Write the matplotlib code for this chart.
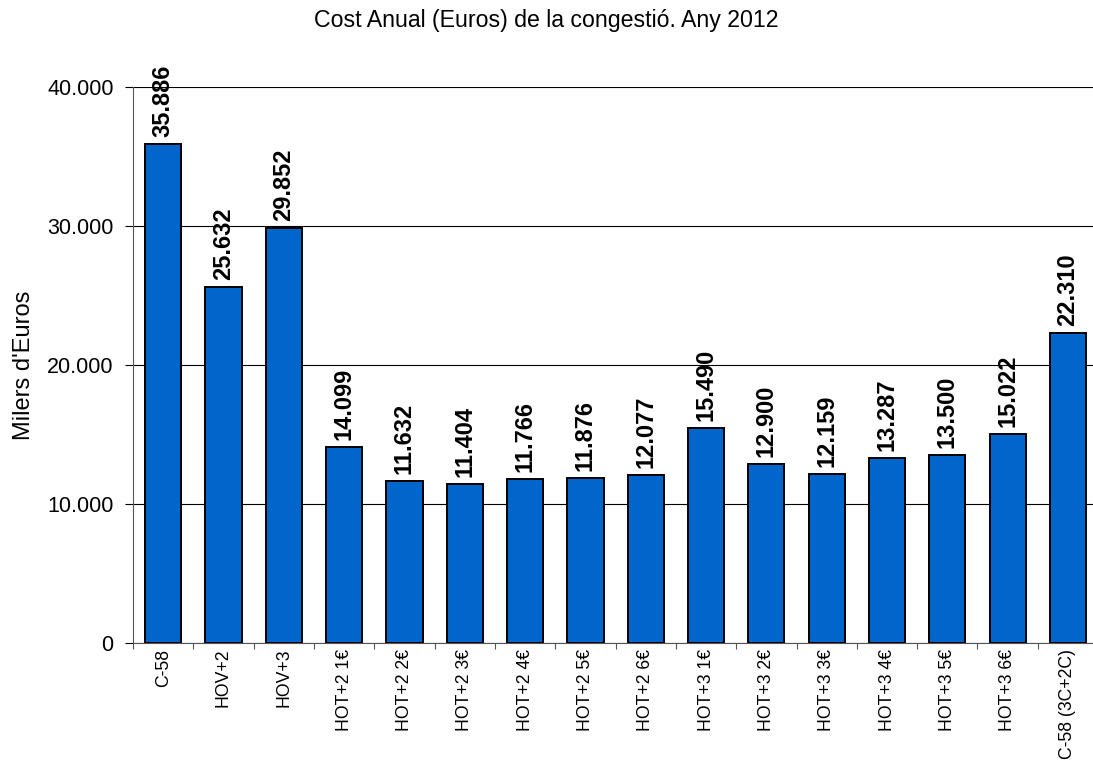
import numpy as np
import matplotlib.pyplot as plt
from matplotlib.ticker import FuncFormatter

plt.rcParams['font.family'] = ['Liberation Sans', 'DejaVu Sans']

# Escenaris i cost anual de la congestió (milers d'euros)
escenaris = ['C-58', 'HOV+2', 'HOV+3',
             'HOT+2 1€', 'HOT+2 2€', 'HOT+2 3€', 'HOT+2 4€', 'HOT+2 5€', 'HOT+2 6€',
             'HOT+3 1€', 'HOT+3 2€', 'HOT+3 3€', 'HOT+3 4€', 'HOT+3 5€', 'HOT+3 6€',
             'C-58 (3C+2C)']
cost = [35886, 25632, 29852,
        14099, 11632, 11404, 11766, 11876, 12077,
        15490, 12900, 12159, 13287, 13500, 15022,
        22310]

def punts_milers(v, pos=None):
    # format amb punt com a separador de milers
    return f"{int(v):,}".replace(',', '.')

fig = plt.figure(figsize=(10.93, 7.6), dpi=100)
ax = fig.add_axes([0.1217, 0.154, 0.883, 0.7316])

x = np.arange(len(escenaris))
ax.bar(x, cost, width=0.6, color='#0066CC', edgecolor='black', linewidth=1.4, zorder=3)

# etiquetes de valor verticals sobre cada barra
for xi, v in zip(x, cost):
    ax.annotate(punts_milers(v), (xi, v), xytext=(0, 5), textcoords='offset points',
                rotation=90, ha='center', va='bottom', fontsize=17, fontweight='bold')

ax.set_xlim(-0.5, len(escenaris) - 0.5)
ax.set_ylim(0, 40000)
ax.set_yticks([0, 10000, 20000, 30000, 40000])
ax.yaxis.set_major_formatter(FuncFormatter(punts_milers))
ax.grid(axis='y', color='black', linewidth=0.8, zorder=0)

# marques de l'eix x entre categories
ax.set_xticks(np.arange(-0.5, len(escenaris) + 0.5, 1.0))
ax.set_xticklabels([])
ax.set_xticks(x, minor=True)
ax.set_xticklabels(escenaris, minor=True, rotation=90, fontsize=12.7)
ax.tick_params(axis='x', which='minor', length=0, pad=4)
ax.tick_params(axis='x', which='major', length=4, width=0.8, color='#555555')
ax.tick_params(axis='y', length=6, width=0.8, labelsize=15.5, pad=8)

for s in ['top', 'right']:
    ax.spines[s].set_visible(False)
ax.spines['left'].set_color('#555555')
ax.spines['bottom'].set_color('#555555')

ax.set_ylabel("Milers d'Euros", fontsize=17, labelpad=9)
fig.suptitle('Cost Anual (Euros) de la congestió. Any 2012', fontsize=16.7, y=0.988)

fig.savefig('out.png', dpi=100)
